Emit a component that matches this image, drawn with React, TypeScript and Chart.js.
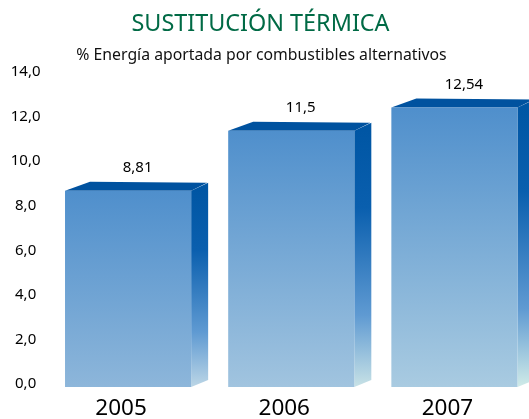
import React, { useEffect, useRef } from "react";
import { Chart, registerables } from "chart.js";

Chart.register(...registerables);

const titleText = "SUSTITUCIÓN TÉRMICA";
const subtitleText = "% Energía aportada por combustibles alternativos";
const years = ["2005", "2006", "2007"];
const values = [8.81, 11.5, 12.54];
const valueLabels = ["8,81", "11,5", "12,54"];
const frontBottomColors = ["#8db6da", "#a1c4df", "#a9cbe1"];
const sideBottomColors = ["#bcd6e6", "#c8e2e6", "#d0ebe8"];
const FONT = '"Noto Sans", sans-serif';

const comma = (v: number) => v.toFixed(1).replace(".", ",");

const box3d = {
  id: "box3d",
  beforeDatasetsDraw(chart: any) {
    const { ctx } = chart;
    chart.getDatasetMeta(0).data.forEach((bar: any, i: number) => {
      const right = bar.x + bar.width / 2;
      const left = bar.x - bar.width / 2;
      const top = bar.y;
      const base = bar.base;
      const side = ctx.createLinearGradient(0, top, 0, base);
      side.addColorStop(0, "#0056a4");
      side.addColorStop(0.3, "#0a5fae");
      side.addColorStop(0.72, "#5f9ad2");
      side.addColorStop(1, sideBottomColors[i]);
      ctx.fillStyle = side;
      ctx.beginPath();
      ctx.moveTo(right, top);
      ctx.lineTo(right + 17, top - 8);
      ctx.lineTo(right + 17, base - 7);
      ctx.lineTo(right, base);
      ctx.closePath();
      ctx.fill();
      ctx.fillStyle = "#00529f";
      ctx.beginPath();
      ctx.moveTo(left, top);
      ctx.lineTo(left + 25, top - 9);
      ctx.lineTo(right + 16, top - 8);
      ctx.lineTo(right, top);
      ctx.closePath();
      ctx.fill();
    });
  },
  afterDatasetsDraw(chart: any) {
    const { ctx } = chart;
    ctx.save();
    ctx.fillStyle = "#000000";
    ctx.textAlign = "center";
    ctx.textBaseline = "middle";
    ctx.font = `15px ${FONT}`;
    chart.getDatasetMeta(0).data.forEach((bar: any, i: number) => {
      ctx.fillText(valueLabels[i], bar.x + 9.5, bar.y - 23);
    });
    ctx.fillStyle = "#006a45";
    ctx.font = `23.4px ${FONT}`;
    ctx.fillText(titleText, 260.5, 24);
    ctx.fillStyle = "#111111";
    ctx.font = `15.8px ${FONT}`;
    ctx.fillText(subtitleText, 261.5, 55);
    ctx.restore();
  },
};

export default function App() {
  const ref = useRef<HTMLCanvasElement>(null);
  useEffect(() => {
    const chart = new Chart(ref.current!, {
      type: "bar",
      plugins: [box3d],
      data: {
        labels: years,
        datasets: [
          {
            data: values,
            barPercentage: 0.773,
            categoryPercentage: 1,
            backgroundColor: (c: any) => {
              const area = c.chart.chartArea;
              if (!area || c.dataIndex === undefined) return "#5b97cf";
              const g = c.chart.ctx.createLinearGradient(
                0,
                c.chart.scales.y.getPixelForValue(values[c.dataIndex]),
                0,
                area.bottom
              );
              g.addColorStop(0, "#4f8fcc");
              g.addColorStop(1, frontBottomColors[c.dataIndex]);
              return g;
            },
          },
        ],
      },
      options: {
        responsive: false,
        animation: false,
        devicePixelRatio: 1,
        layout: { padding: { top: 75, left: 0, right: 0, bottom: 0 } },
        plugins: { legend: { display: false }, tooltip: { enabled: false } },
        scales: {
          x: {
            grid: { display: false, drawTicks: false },
            border: { display: false },
            afterFit: (s: any) => {
              s.height = 32;
            },
            ticks: {
              color: "#000000",
              font: { family: FONT, size: 22.5 },
              labelOffset: -7,
              padding: 8,
              maxRotation: 0,
            },
          },
          y: {
            min: 0,
            max: 14,
            grid: { display: false, drawTicks: false },
            border: { display: false },
            afterFit: (s: any) => {
              s.width = 46.5;
            },
            ticks: {
              stepSize: 2,
              color: "#000000",
              font: { family: FONT, size: 15 },
              crossAlign: "center",
              labelOffset: -3,
              padding: 6,
              callback: (v: any) => comma(Number(v)),
            },
          },
        },
      },
    } as any);
    return () => chart.destroy();
  }, []);
  return (
    <div style={{ position: "fixed", left: 0, top: 0, width: 529, height: 419, overflow: "hidden", background: "#fff" }}>
      <canvas ref={ref} width={536} height={419} style={{ display: "block" }} />
    </div>
  );
}
